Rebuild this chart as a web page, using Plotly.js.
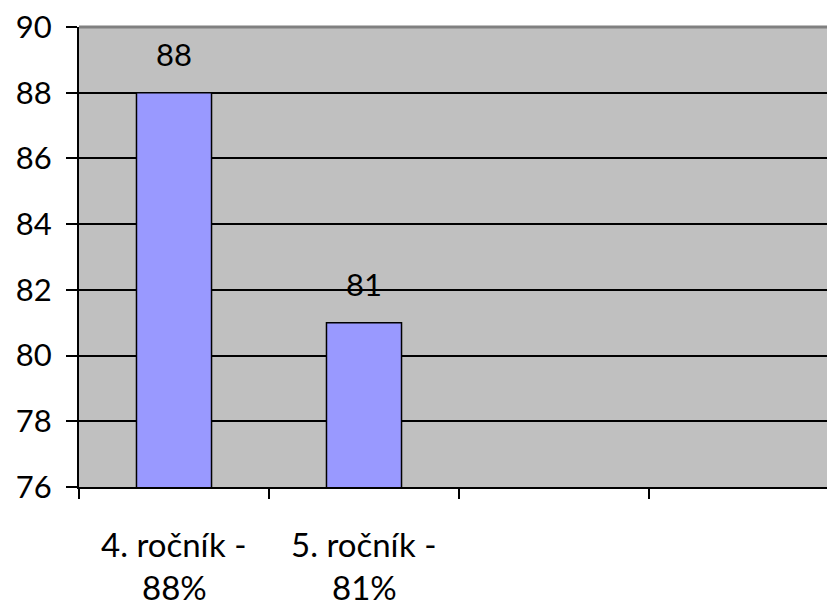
<!DOCTYPE html>
<html>
<head>
<meta charset="utf-8">
<script src="https://cdn.plot.ly/plotly-3.0.1.min.js"></script>
<style>
  html, body { margin: 0; padding: 0; background: #ffffff; overflow: hidden; }
  #chart { width: 827px; height: 609px; }
</style>
</head>
<body>
<div id="chart"></div>
<script>
// Category slots on the x axis (two filled, two empty)
const categories = ["c4", "c5", "e1", "e2"];
const labelLine1 = ["4. ročník -", "5. ročník -"];
const labelLine2 = ["88%", "81%"];
// Bar values
const values = [88, 81];
// Y axis ticks
const yTicks = [76, 78, 80, 82, 84, 86, 88, 90];

const FONT = "Lato, 'Open Sans', sans-serif";

const trace = {
  type: "bar",
  x: categories.slice(0, values.length),
  y: values,
  width: 0.395,
  marker: { color: "#9999FF", line: { color: "#000000", width: 1.5 } },
  hoverinfo: "skip"
};

const annotations = [];
values.forEach((v, i) => {
  // value label above each bar
  annotations.push({
    x: categories[i], y: v, xref: "x", yref: "y",
    text: String(v), showarrow: false,
    yanchor: "middle", yshift: 39,
    font: { family: FONT, size: 31, color: "#000000" }
  });
  // two-line category label under the axis
  annotations.push({
    x: categories[i], y: 0, xref: "x", yref: "paper",
    text: labelLine1[i], showarrow: false,
    yanchor: "middle", yshift: -57,
    font: { family: FONT, size: 33, color: "#000000" }
  });
  annotations.push({
    x: categories[i], y: 0, xref: "x", yref: "paper",
    text: labelLine2[i], showarrow: false,
    yanchor: "middle", yshift: -100,
    font: { family: FONT, size: 33, color: "#000000" }
  });
});

const layout = {
  width: 827,
  height: 609,
  margin: { l: 79, r: 0, t: 27, b: 122, pad: 0 },
  paper_bgcolor: "#ffffff",
  plot_bgcolor: "#C0C0C0",
  showlegend: false,
  font: { family: FONT, size: 31, color: "#000000" },
  xaxis: {
    type: "category",
    categoryorder: "array",
    categoryarray: categories,
    range: [-0.5, -0.5 + 748 / 190],
    tickson: "boundaries",
    ticks: "outside",
    ticklen: 10,
    tickwidth: 2,
    tickcolor: "#000000",
    showticklabels: false,
    showgrid: false,
    showline: true,
    linecolor: "#000000",
    linewidth: 2,
    zeroline: false,
    fixedrange: true
  },
  yaxis: {
    range: [76, 90],
    tickvals: yTicks,
    ticktext: yTicks.map(String),
    ticks: "outside",
    ticklen: 11,
    tickwidth: 2,
    tickcolor: "#000000",
    ticklabelstandoff: 8,
    tickfont: { family: FONT, size: 31, color: "#000000" },
    showgrid: true,
    gridcolor: "#000000",
    gridwidth: 2,
    showline: true,
    linecolor: "#000000",
    linewidth: 2,
    zeroline: false,
    fixedrange: true
  },
  shapes: [
    { type: "line", xref: "paper", yref: "paper", x0: 0, x1: 1, y0: 1, y1: 1,
      line: { color: "#808080", width: 3 }, layer: "above" }
  ],
  annotations: annotations
};

Plotly.newPlot("chart", [trace], layout, { displayModeBar: false, staticPlot: true });
</script>
</body>
</html>
